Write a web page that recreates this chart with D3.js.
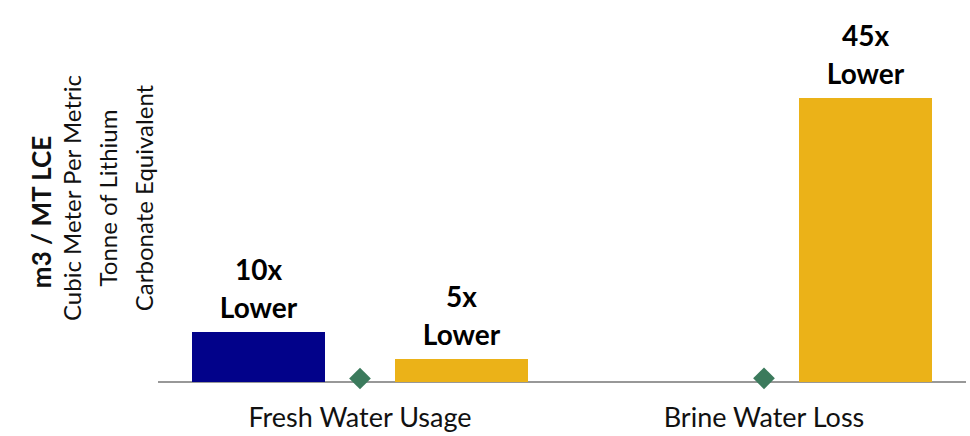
<!DOCTYPE html>
<html>
<head>
<meta charset="utf-8">
<script src="https://cdn.jsdelivr.net/npm/d3@7"></script>
<style>
  body { margin: 0; background: #fff; }
  svg { display: block; font-family: Lato, "Open Sans", sans-serif; }
</style>
</head>
<body>
<svg width="970" height="436"></svg>
<script>
// categories and series (m3 / MT LCE)
var categories = ['Fresh Water Usage', 'Brine Water Loss']
var conventional = [50, 0]        // navy bars
var company = [3.5, 3.7]          // green diamonds
var evaporation = [23, 284]       // yellow bars
var barLabels = [['10x', 'Lower'], ['5x', 'Lower'], ['45x', 'Lower']]

var svg = d3.select('svg'),
    margin = {left: 158, right: 4, top: 82, bottom: 54},
    width = 970,
    height = 436,
    navy = '#02028a',
    gold = '#ebb218',
    green = '#3b7a5c'

var x = d3.scaleBand()
    .domain(categories)
    .range([margin.left, width - margin.right])

var y = d3.scaleLinear()
    .domain([0, 300])
    .range([height - margin.bottom, margin.top])

var barW = 133, offset = 101.5

// x axis line + labels
svg.append('line')
    .attr('x1', x.range()[0]).attr('x2', x.range()[1])
    .attr('y1', y(0)).attr('y2', y(0))
    .attr('stroke', '#989898').attr('stroke-width', 2)

svg.selectAll('.cat')
    .data(categories)
    .enter().append('text')
    .attr('class', 'cat')
    .attr('x', d => x(d) + x.bandwidth() / 2)
    .attr('y', 427)
    .attr('text-anchor', 'middle')
    .attr('font-size', 27)
    .attr('fill', '#111')
    .text(d => d)

// bars
var bars = []
categories.forEach((c, i) => {
    bars.push({cat: c, v: conventional[i], dx: -offset, color: navy})
    bars.push({cat: c, v: evaporation[i], dx: offset, color: gold})
})

svg.selectAll('.bar')
    .data(bars.filter(d => d.v > 0))
    .enter().append('rect')
    .attr('class', 'bar')
    .attr('x', d => x(d.cat) + x.bandwidth() / 2 + d.dx - barW / 2)
    .attr('y', d => y(d.v))
    .attr('width', barW)
    .attr('height', d => y(0) - y(d.v))
    .attr('fill', d => d.color)

// diamonds
svg.selectAll('.dia')
    .data(categories)
    .enter().append('path')
    .attr('class', 'dia')
    .attr('transform', (d, i) => 'translate(' + (x(d) + x.bandwidth() / 2) + ',' + y(company[i]) + ')')
    .attr('d', d3.symbol().type(d3.symbolDiamond2).size(300))
    .attr('fill', green)

// labels above bars
var labelled = bars.filter(d => d.v > 0)
var lab = svg.selectAll('.lab')
    .data(labelled)
    .enter().append('text')
    .attr('class', 'lab')
    .attr('text-anchor', 'middle')
    .attr('font-size', 28)
    .attr('font-weight', 'bold')
    .attr('fill', '#000')
lab.each(function(d, i) {
    var cx = x(d.cat) + x.bandwidth() / 2 + d.dx
    var base = y(d.v) - 14
    d3.select(this).append('tspan').attr('x', cx).attr('y', base - 38).text(barLabels[i][0])
    d3.select(this).append('tspan').attr('x', cx).attr('y', base).text(barLabels[i][1])
})

// y axis title
var title = svg.append('g').attr('font-size', 24).attr('fill', '#111')
title.append('text')
    .attr('transform', 'translate(51,212) rotate(-90)')
    .attr('text-anchor', 'middle')
    .attr('font-weight', 'bold')
    .attr('font-size', 26)
    .text('m3 / MT LCE')
var lines = ['Cubic Meter Per Metric', 'Tonne of Lithium', 'Carbonate Equivalent']
lines.forEach((t, i) => {
    title.append('text')
        .attr('transform', 'translate(' + (81 + i * 36) + ',198) rotate(-90)')
        .attr('text-anchor', 'middle')
        .text(t)
})
</script>
</body>
</html>
